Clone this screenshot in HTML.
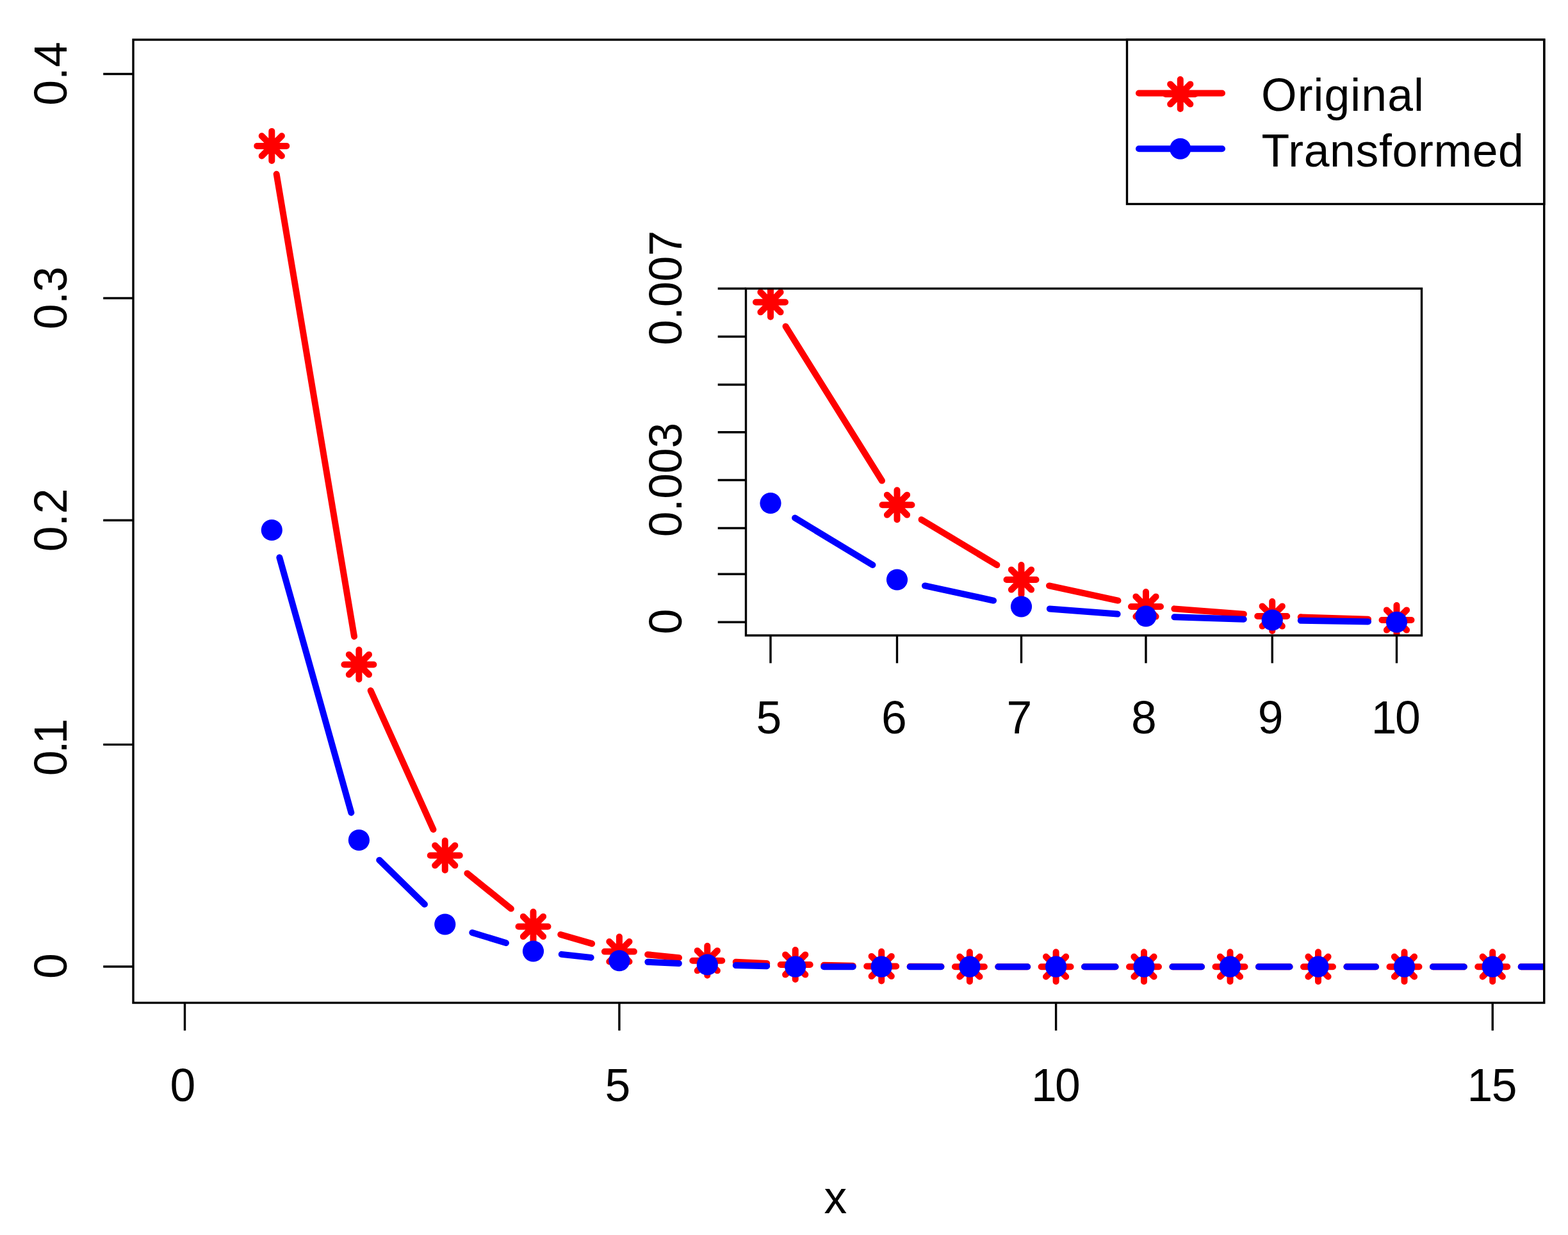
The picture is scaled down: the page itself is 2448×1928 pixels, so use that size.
<!DOCTYPE html>
<html lang="en"><head><meta charset="utf-8"><title>Original vs Transformed</title>
<style>
html,body{margin:0;padding:0;background:#fff;}
body{width:2448px;height:1928px;overflow:hidden;}
svg{display:block;}
text{font-family:"Liberation Sans",Arial,Helvetica,sans-serif;font-size:71.5px;fill:#000;}
.ax{stroke:#000;stroke-width:3.4;fill:none;stroke-linecap:butt;}
</style></head><body>
<svg width="2448" height="1928" viewBox="0 0 2448 1928">
<rect x="0" y="0" width="2448" height="1928" fill="#fff"/>
<defs>
<clipPath id="cm"><rect x="208.0" y="62.0" width="2202.75" height="1503.5"/></clipPath>
<clipPath id="ci"><rect x="1164.5" y="450.5" width="1055.0" height="541.5"/></clipPath>
</defs>
<g clip-path="url(#cm)"><g stroke="#f00" stroke-width="10.0" stroke-linecap="round" fill="none"><line x1="431.68" y1="271.78" x2="553.02" y2="993.62"/><line x1="578.69" y1="1078.07" x2="676.46" y2="1294.93"/><line x1="729.40" y1="1363.42" x2="797.85" y2="1418.58"/><line x1="875.23" y1="1458.93" x2="924.17" y2="1473.17"/><line x1="1011.17" y1="1490.16" x2="1060.03" y2="1495.19"/><line x1="1148.75" y1="1501.77" x2="1197.25" y2="1503.98"/><line x1="1286.19" y1="1506.83" x2="1331.71" y2="1507.67"/><line x1="1420.70" y1="1508.73" x2="1469.40" y2="1508.97"/><line x1="1558.40" y1="1509.20" x2="1604.10" y2="1509.20"/><line x1="1693.10" y1="1509.20" x2="1741.50" y2="1509.20"/><line x1="1830.50" y1="1509.20" x2="1876.00" y2="1509.20"/><line x1="1965.00" y1="1509.20" x2="2013.50" y2="1509.20"/><line x1="2102.50" y1="1509.20" x2="2148.00" y2="1509.20"/><line x1="2237.00" y1="1509.20" x2="2285.75" y2="1509.20"/><line x1="2374.75" y1="1509.20" x2="2421.90" y2="1509.20"/></g><g stroke="#f00" stroke-width="10.0" stroke-linecap="round" fill="none"><path d="M401.30 227.90H447.30M424.30 204.90V250.90M408.70 212.30L439.90 243.50M408.70 243.50L439.90 212.30"/><path d="M537.40 1037.50H583.40M560.40 1014.50V1060.50M544.80 1021.90L576.00 1053.10M544.80 1053.10L576.00 1021.90"/><path d="M671.75 1335.50H717.75M694.75 1312.50V1358.50M679.15 1319.90L710.35 1351.10M679.15 1351.10L710.35 1319.90"/><path d="M809.50 1446.50H855.50M832.50 1423.50V1469.50M816.90 1430.90L848.10 1462.10M816.90 1462.10L848.10 1430.90"/><path d="M943.90 1485.60H989.90M966.90 1462.60V1508.60M951.30 1470.00L982.50 1501.20M951.30 1501.20L982.50 1470.00"/><path d="M1081.30 1499.75H1127.30M1104.30 1476.75V1522.75M1088.70 1484.15L1119.90 1515.35M1088.70 1515.35L1119.90 1484.15"/><path d="M1218.70 1506.00H1264.70M1241.70 1483.00V1529.00M1226.10 1490.40L1257.30 1521.60M1226.10 1521.60L1257.30 1490.40"/><path d="M1353.20 1508.50H1399.20M1376.20 1485.50V1531.50M1360.60 1492.90L1391.80 1524.10M1360.60 1524.10L1391.80 1492.90"/><path d="M1490.90 1509.20H1536.90M1513.90 1486.20V1532.20M1498.30 1493.60L1529.50 1524.80M1498.30 1524.80L1529.50 1493.60"/><path d="M1625.60 1509.20H1671.60M1648.60 1486.20V1532.20M1633.00 1493.60L1664.20 1524.80M1633.00 1524.80L1664.20 1493.60"/><path d="M1763.00 1509.20H1809.00M1786.00 1486.20V1532.20M1770.40 1493.60L1801.60 1524.80M1770.40 1524.80L1801.60 1493.60"/><path d="M1897.50 1509.20H1943.50M1920.50 1486.20V1532.20M1904.90 1493.60L1936.10 1524.80M1904.90 1524.80L1936.10 1493.60"/><path d="M2035.00 1509.20H2081.00M2058.00 1486.20V1532.20M2042.40 1493.60L2073.60 1524.80M2042.40 1524.80L2073.60 1493.60"/><path d="M2169.50 1509.20H2215.50M2192.50 1486.20V1532.20M2176.90 1493.60L2208.10 1524.80M2176.90 1524.80L2208.10 1493.60"/><path d="M2307.25 1509.20H2353.25M2330.25 1486.20V1532.20M2314.65 1493.60L2345.85 1524.80M2314.65 1524.80L2345.85 1493.60"/><path d="M2443.40 1509.20H2489.40M2466.40 1486.20V1532.20M2450.80 1493.60L2482.00 1524.80M2450.80 1524.80L2482.00 1493.60"/></g><g stroke="#00f" stroke-width="10.0" stroke-linecap="round" fill="none"><line x1="436.35" y1="870.34" x2="548.35" y2="1268.66"/><line x1="592.20" y1="1342.63" x2="662.95" y2="1411.87"/><line x1="737.32" y1="1455.98" x2="789.93" y2="1472.02"/><line x1="876.73" y1="1489.85" x2="922.67" y2="1494.90"/><line x1="1011.35" y1="1501.77" x2="1059.85" y2="1503.98"/><line x1="1148.79" y1="1507.04" x2="1197.21" y2="1508.16"/><line x1="1286.20" y1="1509.20" x2="1331.70" y2="1509.20"/><line x1="1420.70" y1="1509.20" x2="1469.40" y2="1509.20"/><line x1="1558.40" y1="1509.20" x2="1604.10" y2="1509.20"/><line x1="1693.10" y1="1509.20" x2="1741.50" y2="1509.20"/><line x1="1830.50" y1="1509.20" x2="1876.00" y2="1509.20"/><line x1="1965.00" y1="1509.20" x2="2013.50" y2="1509.20"/><line x1="2102.50" y1="1509.20" x2="2148.00" y2="1509.20"/><line x1="2237.00" y1="1509.20" x2="2285.75" y2="1509.20"/><line x1="2374.75" y1="1509.20" x2="2421.90" y2="1509.20"/></g><g fill="#00f"><circle cx="424.30" cy="827.50" r="16.6"/><circle cx="560.40" cy="1311.50" r="16.6"/><circle cx="694.75" cy="1443.00" r="16.6"/><circle cx="832.50" cy="1485.00" r="16.6"/><circle cx="966.90" cy="1499.75" r="16.6"/><circle cx="1104.30" cy="1506.00" r="16.6"/><circle cx="1241.70" cy="1509.20" r="16.6"/><circle cx="1376.20" cy="1509.20" r="16.6"/><circle cx="1513.90" cy="1509.20" r="16.6"/><circle cx="1648.60" cy="1509.20" r="16.6"/><circle cx="1786.00" cy="1509.20" r="16.6"/><circle cx="1920.50" cy="1509.20" r="16.6"/><circle cx="2058.00" cy="1509.20" r="16.6"/><circle cx="2192.50" cy="1509.20" r="16.6"/><circle cx="2330.25" cy="1509.20" r="16.6"/><circle cx="2466.40" cy="1509.20" r="16.6"/></g></g>
<g class="ax"><rect x="208.0" y="62.0" width="2202.75" height="1503.5"/><line x1="288.50" y1="1565.5" x2="288.50" y2="1608.8"/><line x1="966.90" y1="1565.5" x2="966.90" y2="1608.8"/><line x1="1648.60" y1="1565.5" x2="1648.60" y2="1608.8"/><line x1="2330.25" y1="1565.5" x2="2330.25" y2="1608.8"/><line x1="208.0" y1="1509.00" x2="161.2" y2="1509.00"/><line x1="208.0" y1="1162.40" x2="161.2" y2="1162.40"/><line x1="208.0" y1="812.30" x2="161.2" y2="812.30"/><line x1="208.0" y1="465.50" x2="161.2" y2="465.50"/><line x1="208.0" y1="115.50" x2="161.2" y2="115.50"/></g>
<g><text x="265.50" y="1718.90">0</text><text x="944.42" y="1718.90">5</text><text x="1610.10" y="1718.90" letter-spacing="-2.850">10</text><text x="2290.50" y="1718.90" letter-spacing="-1.500">15</text><text x="1286.50" y="1893.50">x</text><text transform="translate(104.00 1528.12) rotate(-90)">0</text><text transform="translate(104.00 1211.15) rotate(-90)" letter-spacing="-4.975">0.1</text><text transform="translate(104.00 861.25) rotate(-90)" letter-spacing="-0.350">0.2</text><text transform="translate(104.00 514.25) rotate(-90)" letter-spacing="-0.600">0.3</text><text transform="translate(104.00 164.75) rotate(-90)">0.4</text></g>
<rect class="ax" x="1759.5" y="62.0" width="651.25" height="256.5" style="fill:#fff"/><g stroke-width="10.0" stroke-linecap="round"><line x1="1778" y1="145.5" x2="1908" y2="145.5" stroke="#f00"/><line x1="1778" y1="232.25" x2="1908" y2="232.25" stroke="#00f"/></g><g stroke="#f00" stroke-width="10.0" stroke-linecap="round" fill="none"><path d="M1819.75 147.00H1865.75M1842.75 124.00V170.00M1827.15 131.40L1858.35 162.60M1827.15 162.60L1858.35 131.40"/></g><g fill="#00f"><circle cx="1842.75" cy="232.25" r="16.6"/></g><text x="1969.00" y="173.00" letter-spacing="1.071">Original</text><text x="1969.50" y="259.80" letter-spacing="0.670">Transformed</text>
<rect x="1164.5" y="450.5" width="1055.0" height="541.5" fill="#fff"/><g clip-path="url(#ci)"><g stroke="#f00" stroke-width="10.0" stroke-linecap="round" fill="none"><line x1="1226.56" y1="509.50" x2="1376.94" y2="750.50"/><line x1="1438.63" y1="811.20" x2="1556.37" y2="882.05"/><line x1="1638.00" y1="914.39" x2="1745.50" y2="937.61"/><line x1="1833.37" y1="950.37" x2="1941.88" y2="958.63"/><line x1="2030.73" y1="963.37" x2="2136.02" y2="966.63"/></g><g stroke="#f00" stroke-width="10.0" stroke-linecap="round" fill="none"><path d="M1180.00 471.75H1226.00M1203.00 448.75V494.75M1187.40 456.15L1218.60 487.35M1187.40 487.35L1218.60 456.15"/><path d="M1377.50 788.25H1423.50M1400.50 765.25V811.25M1384.90 772.65L1416.10 803.85M1384.90 803.85L1416.10 772.65"/><path d="M1571.50 905.00H1617.50M1594.50 882.00V928.00M1578.90 889.40L1610.10 920.60M1578.90 920.60L1610.10 889.40"/><path d="M1766.00 947.00H1812.00M1789.00 924.00V970.00M1773.40 931.40L1804.60 962.60M1773.40 962.60L1804.60 931.40"/><path d="M1963.25 962.00H2009.25M1986.25 939.00V985.00M1970.65 946.40L2001.85 977.60M1970.65 977.60L2001.85 946.40"/><path d="M2157.50 968.00H2203.50M2180.50 945.00V991.00M2164.90 952.40L2196.10 983.60M2164.90 983.60L2196.10 952.40"/></g><g stroke="#00f" stroke-width="10.0" stroke-linecap="round" fill="none"><line x1="1241.07" y1="808.54" x2="1362.43" y2="881.96"/><line x1="1443.99" y1="914.42" x2="1551.01" y2="937.58"/><line x1="1638.87" y1="950.42" x2="1744.63" y2="958.58"/><line x1="1833.48" y1="963.35" x2="1941.77" y2="966.65"/><line x1="2030.74" y1="968.74" x2="2136.01" y2="970.51"/></g><g fill="#00f"><circle cx="1203.00" cy="785.50" r="16.6"/><circle cx="1400.50" cy="905.00" r="16.6"/><circle cx="1594.50" cy="947.00" r="16.6"/><circle cx="1789.00" cy="962.00" r="16.6"/><circle cx="1986.25" cy="968.00" r="16.6"/><circle cx="2180.50" cy="971.25" r="16.6"/></g></g>
<g class="ax"><rect x="1164.5" y="450.5" width="1055.0" height="541.5"/><line x1="1203.00" y1="992.0" x2="1203.00" y2="1035.3"/><line x1="1400.50" y1="992.0" x2="1400.50" y2="1035.3"/><line x1="1594.50" y1="992.0" x2="1594.50" y2="1035.3"/><line x1="1789.00" y1="992.0" x2="1789.00" y2="1035.3"/><line x1="1986.25" y1="992.0" x2="1986.25" y2="1035.3"/><line x1="2180.50" y1="992.0" x2="2180.50" y2="1035.3"/><line x1="1164.5" y1="971.25" x2="1120.7" y2="971.25"/><line x1="1164.5" y1="896.25" x2="1120.7" y2="896.25"/><line x1="1164.5" y1="824.50" x2="1120.7" y2="824.50"/><line x1="1164.5" y1="749.50" x2="1120.7" y2="749.50"/><line x1="1164.5" y1="674.75" x2="1120.7" y2="674.75"/><line x1="1164.5" y1="600.50" x2="1120.7" y2="600.50"/><line x1="1164.5" y1="525.50" x2="1120.7" y2="525.50"/><line x1="1164.5" y1="450.50" x2="1120.7" y2="450.50"/></g>
<g><text x="1180.50" y="1145.00">5</text><text x="1376.12" y="1145.00">6</text><text x="1571.62" y="1145.00">7</text><text x="1765.88" y="1145.00">8</text><text x="1963.75" y="1145.00">9</text><text x="2140.75" y="1145.00" letter-spacing="-2.500">10</text><text transform="translate(1064.30 990.25) rotate(-90)">0</text><text transform="translate(1064.30 838.25) rotate(-90)" letter-spacing="-0.125">0.003</text><text transform="translate(1064.30 539.00) rotate(-90)">0.007</text></g>
</svg>
</body></html>
